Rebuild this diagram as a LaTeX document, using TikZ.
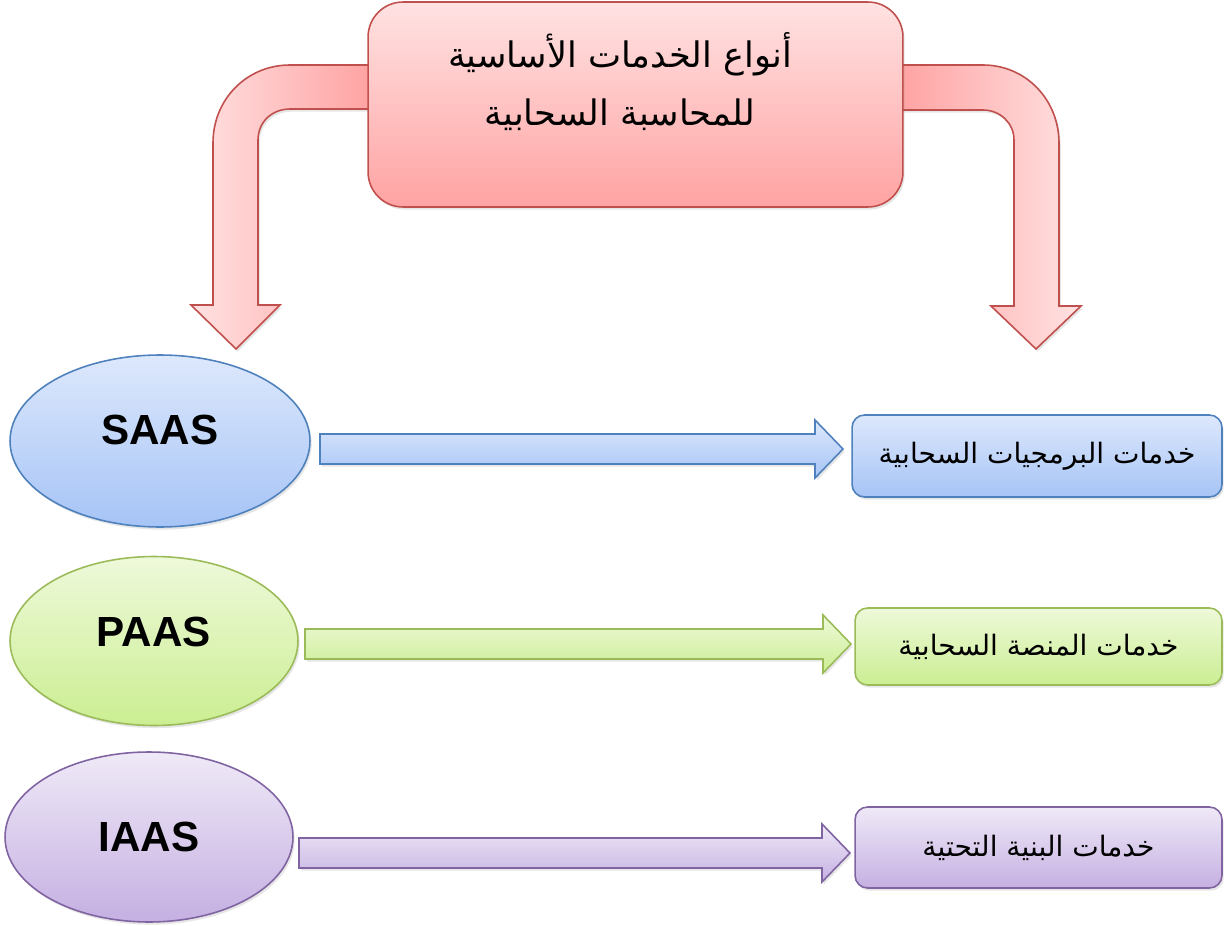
\documentclass[tikz,border=0pt]{standalone}
\usepackage{fontspec}
\setmainfont{Liberation Sans}
\newfontfamily\arabicfont[Script=Arabic]{DejaVu Sans}
\TeXXeTstate=1
\usetikzlibrary{shapes.geometric,shadows,calc}

\definecolor{redline}{HTML}{C0504D}
\definecolor{redlight}{HTML}{FFE2E2}
\definecolor{reddark}{HTML}{FFA3A3}
\definecolor{blueline}{HTML}{4F81BD}
\definecolor{bluelight}{HTML}{DDE8FC}
\definecolor{bluedark}{HTML}{A6C4F6}
\definecolor{greenline}{HTML}{9BBB59}
\definecolor{greenlight}{HTML}{EEF9DA}
\definecolor{greendark}{HTML}{CBEE92}
\definecolor{purpleline}{HTML}{8064A2}
\definecolor{purplelight}{HTML}{EFE9F7}
\definecolor{purpledark}{HTML}{C5B0E2}

\begin{document}
\begin{tikzpicture}[x=0.02cm, y=-0.02cm,
    softshadow/.style={drop shadow={shadow xshift=1pt, shadow yshift=-1.5pt, opacity=0.2}},
    service/.style={ellipse, draw=#1line, line width=0.9pt, top color=#1light, bottom color=#1dark, softshadow},
    kind/.style={font=\bfseries\fontsize{24}{28}\selectfont},
    result/.style={rectangle, rounded corners=0.25cm, draw=#1line, line width=0.9pt, top color=#1light, bottom color=#1dark, softshadow,
      minimum width=7.34cm, minimum height=1.6cm, font=\arabicfont\fontsize{16}{20}\selectfont},
    blockarrow/.style={draw=#1line, line width=0.9pt, top color=#1light, bottom color=#1dark, softshadow,
      to path={($(\tikztostart)+(0,-15)$) -- ($(\tikztotarget)+(-28,-15)$) -- ($(\tikztotarget)+(-28,-29)$) -- (\tikztotarget)
        -- ($(\tikztotarget)+(-28,29)$) -- ($(\tikztotarget)+(-28,15)$) -- ($(\tikztostart)+(0,15)$) -- cycle}}]
    \useasboundingbox (0,0) rectangle (1225,926);

    \path[draw=redline, line width=0.9pt, left color=redlight, right color=reddark, softshadow]
      (370,65) -- (290,65) .. controls (247,65) and (213,99) .. (213,143) -- (213,305) -- (191,305) -- (236,349)
      -- (280,305) -- (258,305) -- (258,140) .. controls (258,122) and (272,109) .. (290,109) -- (370,109) -- cycle;
    \path[draw=redline, line width=0.9pt, left color=reddark, right color=redlight, softshadow]
      (900,65) -- (983,65) .. controls (1026,65) and (1059,100) .. (1059,143) -- (1059,306) -- (1081,306) -- (1036,349)
      -- (991,306) -- (1014,306) -- (1014,140) .. controls (1014,123) and (1000,110) .. (983,110) -- (900,110) -- cycle;

    \node [rectangle, rounded corners=0.7cm, draw=redline, line width=0.9pt, top color=redlight, bottom color=reddark, softshadow,
      minimum width=10.7cm, minimum height=4.1cm] (types) at (635.5,104.5) {};
    \node [align=center, font=\arabicfont\fontsize{20}{33}\selectfont] (title) at (620,82)
      {\beginR أنواع الخدمات الأساسية\endR\\\beginR للمحاسبة السحابية\endR};

    \node [service=blue, minimum width=6cm, minimum height=3.44cm] (saas) at (160,441) {};
    \node [service=green, minimum width=5.76cm, minimum height=3.38cm] (paas) at (154,641) {};
    \node [service=purple, minimum width=5.76cm, minimum height=3.4cm] (iaas) at (149,837) {};
    \node [kind] (saaslabel) at (160,430) {SAAS};
    \node [kind] (paaslabel) at (154,632) {PAAS};
    \node [kind] (iaaslabel) at (149,837) {IAAS};

    \node [result=blue, minimum width=7.4cm, minimum height=1.64cm] (software) at (1037,456) {\beginR خدمات البرمجيات السحابية\endR};
    \node [result=green, minimum height=1.54cm] (platform) at (1038.5,646.5) {\beginR خدمات المنصة السحابية\endR};
    \node [result=purple, minimum height=1.62cm] (infra) at (1038.5,847.5) {\beginR خدمات البنية التحتية\endR};

    \coordinate (s1) at (320,449);
    \coordinate (s2) at (843,449);
    \coordinate (p1) at (305,644);
    \coordinate (p2) at (851,644);
    \coordinate (i1) at (299,853);
    \coordinate (i2) at (850,853);
    \path [blockarrow=blue] (s1) to (s2);
    \path [blockarrow=green] (p1) to (p2);
    \path [blockarrow=purple] (i1) to (i2);
\end{tikzpicture}
\end{document}
